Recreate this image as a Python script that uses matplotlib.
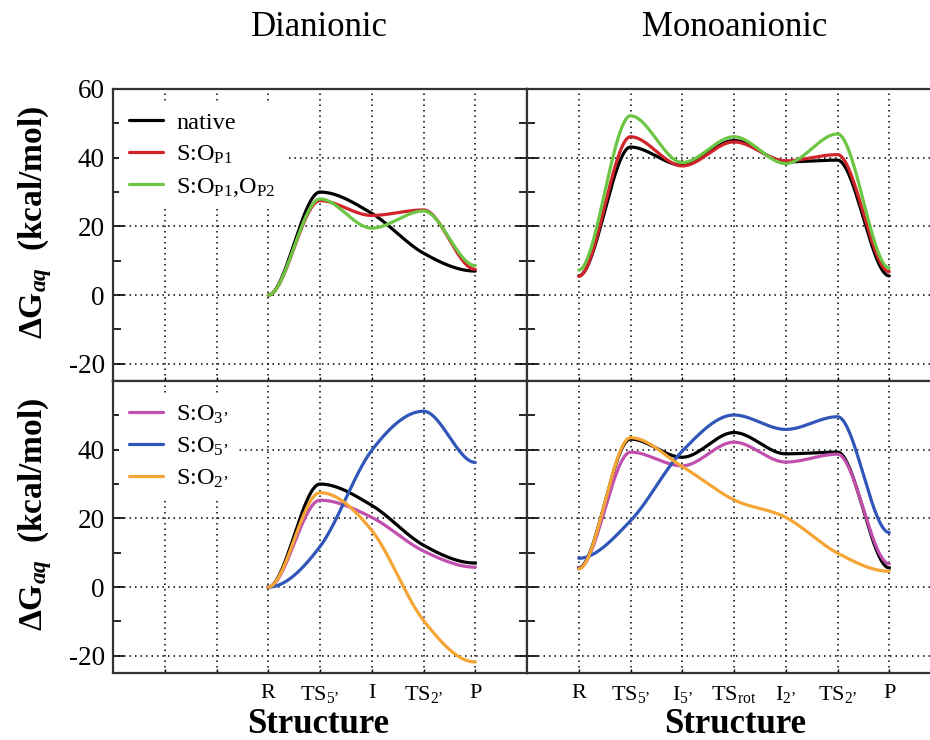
import numpy as np
import matplotlib
matplotlib.use('Agg')
import matplotlib.pyplot as plt
from matplotlib.ticker import FixedLocator

plt.rcParams['font.family'] = ['Liberation Serif', 'DejaVu Serif']
plt.rcParams['mathtext.fontset'] = 'custom'
plt.rcParams['mathtext.rm'] = 'Liberation Serif'
plt.rcParams['mathtext.it'] = 'Liberation Serif:italic:bold'
plt.rcParams['mathtext.bf'] = 'Liberation Serif:bold'

# ---------------- data ----------------
di_labels = ['R', "TS$_{\\mathrm{5’}}$", 'I', "TS$_{\\mathrm{2’}}$", 'P']
mono_labels = ['R', "TS$_{\\mathrm{5’}}$", "I$_{\\mathrm{5’}}$", "TS$_{\\mathrm{rot}}$",
               "I$_{\\mathrm{2’}}$", "TS$_{\\mathrm{2’}}$", 'P']

di_native = [0, 30.0, 23.8, 12.2, 7.0]
di_op1 = [0, 27.5, 23.2, 24.8, 7.5]
di_op1op2 = [0, 28.0, 19.5, 24.5, 8.6]
di_o3 = [0, 25.3, 20.3, 10.5, 5.8]
di_o5 = [0, 11.8, 39.8, 51.2, 36.3]
di_o2 = [0, 27.5, 16.5, -9.7, -21.8]

mono_native = [5.6, 43.1, 37.8, 45.0, 38.8, 39.3, 5.6]
mono_op1 = [5.5, 46.1, 37.6, 44.6, 39.1, 40.9, 6.8]
mono_op1op2 = [7.3, 52.2, 38.6, 46.1, 38.3, 46.9, 7.9]
mono_o3 = [5.5, 39.3, 35.3, 42.2, 36.4, 38.7, 6.8]
mono_o5 = [8.4, 19.3, 39.6, 50.1, 45.9, 49.6, 15.9]
mono_o2 = [5.3, 43.5, 35.1, 25.4, 20.3, 9.9, 4.6]

top_names = ['native', 'S:O$_{\\mathrm{P1}}$', 'S:O$_{\\mathrm{P1}}$,O$_{\\mathrm{P2}}$']
bot_names = ['S:O$_{\\mathrm{3’}}$', 'S:O$_{\\mathrm{5’}}$', 'S:O$_{\\mathrm{2’}}$']

C_BLACK = '#000000'
C_RED = '#d0232a'
C_GREEN = '#6cc644'
C_MAG = '#c04fae'
C_BLUE = '#2f56b8'
C_ORANGE = '#f4a534'


def smooth_curve(yk, n=60):
    """Piecewise-cubic Hermite curve through the points: Catmull-Rom tangents,
    flat at local extrema and at both ends."""
    yk = np.asarray(yk, float)
    N = len(yk)
    m = np.diff(yk)
    d = np.zeros(N)
    for i in range(1, N - 1):
        if m[i - 1] * m[i] > 0:
            d[i] = 0.5 * (m[i - 1] + m[i])
    xs_all, ys_all = [], []
    for i in range(N - 1):
        t = np.linspace(0, 1, n)
        h00 = 2 * t ** 3 - 3 * t ** 2 + 1
        h10 = t ** 3 - 2 * t ** 2 + t
        h01 = -2 * t ** 3 + 3 * t ** 2
        h11 = t ** 3 - t ** 2
        y = h00 * yk[i] + h10 * d[i] + h01 * yk[i + 1] + h11 * d[i + 1]
        xs_all.append(i + t)
        ys_all.append(y)
    return np.concatenate(xs_all), np.concatenate(ys_all)


W, H = 930, 740
fig = plt.figure(figsize=(W / 100, H / 100), dpi=100)


def px_axes(x0, y0, x1, y1):
    return fig.add_axes([x0 / W, (H - y1) / H, (x1 - x0) / W, (y1 - y0) / H])


ax_tl = px_axes(113, 89, 527, 381)
ax_bl = px_axes(113, 381, 527, 673)
ax_tr = px_axes(527, 89, 941, 381)
ax_br = px_axes(527, 381, 941, 673)

grid_kw = dict(color='black', linestyle=(0, (1, 2.6)), linewidth=1.1)


def style(ax, left_panel, bottom_row):
    ax.set_ylim(-25, 60)
    if left_panel:
        ax.set_xlim(-3, 5)
        xt = [-2, -1, 0, 1, 2, 3, 4]
        labs = ['', ''] + di_labels
    else:
        ax.set_xlim(-1, 7)
        xt = [0, 1, 2, 3, 4, 5, 6]
        labs = mono_labels
    ax.xaxis.set_major_locator(FixedLocator(xt))
    if bottom_row:
        ax.set_xticklabels(labs, fontsize=16)
    else:
        ax.set_xticklabels([])
    ax.yaxis.set_major_locator(FixedLocator([-20, 0, 20, 40, 60]))
    ax.yaxis.set_minor_locator(FixedLocator([-10, 10, 30, 50]))
    if left_panel:
        ylabs = ['-20', '0', '20', '40', '60' if not bottom_row else '']
        ax.set_yticklabels(ylabs, fontsize=19.5)
    else:
        ax.set_yticklabels([])
    ax.tick_params(axis='y', which='major', direction='in', length=8, width=1.2,
                   left=True, right=True, pad=6)
    ax.tick_params(axis='y', which='minor', direction='in', length=6, width=1.2,
                   left=True, right=True)
    ax.tick_params(axis='x', which='major', direction='in', length=3, width=1.0,
                   bottom=True, top=False, pad=8)
    for s in ax.spines.values():
        s.set_linewidth(1.6)
        s.set_color('#333333')
    ax.grid(True, which='major', **grid_kw)
    ax.set_axisbelow(True)


for ax, lp, br in [(ax_tl, True, False), (ax_bl, True, True), (ax_tr, False, False), (ax_br, False, True)]:
    style(ax, lp, br)

lw = 2.3
# top-left
for vals, col, name in [(di_native, C_BLACK, top_names[0]), (di_op1, C_RED, top_names[1]),
                        (di_op1op2, C_GREEN, top_names[2])]:
    xs, ys = smooth_curve(vals)
    ax_tl.plot(xs, ys, color=col, lw=lw, label=name, solid_capstyle='round')
# top-right
for vals, col in [(mono_native, C_BLACK), (mono_op1, C_RED), (mono_op1op2, C_GREEN)]:
    xs, ys = smooth_curve(vals)
    ax_tr.plot(xs, ys, color=col, lw=lw, solid_capstyle='round')
# bottom-left
xs, ys = smooth_curve(di_native)
ax_bl.plot(xs, ys, color=C_BLACK, lw=lw)
for vals, col, name in [(di_o3, C_MAG, bot_names[0]), (di_o5, C_BLUE, bot_names[1]),
                        (di_o2, C_ORANGE, bot_names[2])]:
    xs, ys = smooth_curve(vals)
    ax_bl.plot(xs, ys, color=col, lw=lw, label=name, solid_capstyle='round')
# bottom-right
xs, ys = smooth_curve(mono_native)
ax_br.plot(xs, ys, color=C_BLACK, lw=lw)
for vals, col in [(mono_o3, C_MAG), (mono_o5, C_BLUE), (mono_o2, C_ORANGE)]:
    xs, ys = smooth_curve(vals)
    ax_br.plot(xs, ys, color=col, lw=lw, solid_capstyle='round')

leg_kw = dict(loc='upper left', frameon=True, facecolor='white', edgecolor='none',
              framealpha=1, fontsize=17.5, handlelength=1.4, handletextpad=0.55,
              labelspacing=0.4, borderpad=0.4, borderaxespad=0, fancybox=False)
ax_tl.legend(bbox_to_anchor=(0.015, 0.955), **leg_kw)
ax_bl.legend(bbox_to_anchor=(0.015, 0.955), **leg_kw)

fig.text(319.5 / W, 1 - 27 / H, 'Dianionic', fontsize=25, ha='center', va='center')
fig.text(735 / W, 1 - 27 / H, 'Monoanionic', fontsize=25, ha='center', va='center')
fig.text(318.5 / W, 1 - 733 / H, 'Structure', fontsize=25, fontweight='bold', ha='center', va='baseline')
fig.text(735 / W, 1 - 733 / H, 'Structure', fontsize=25, fontweight='bold', ha='center', va='baseline')
for yc in (222, 514):
    fig.text(35 / W, 1 - yc / H, 'ΔG$_{aq}$  (kcal/mol)', fontsize=24, fontweight='bold',
             rotation=90, ha='center', va='center')

fig.savefig('out.png', dpi=100)
